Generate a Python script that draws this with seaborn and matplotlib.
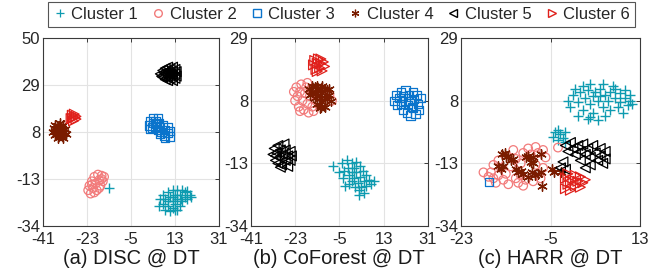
import numpy as np
import pandas as pd
import matplotlib
matplotlib.use("Agg")
import matplotlib.pyplot as plt
from matplotlib.lines import Line2D
import seaborn as sns

sns.set_style("white")
plt.rcParams['font.family'] = ['Liberation Sans', 'DejaVu Sans']

clusters = ["Cluster 1", "Cluster 2", "Cluster 3", "Cluster 4", "Cluster 5", "Cluster 6"]
colors = ["#0e9bb0", "#f27b7b", "#0a74cc", "#7a1c00", "#000000", "#e0201b"]
markers = ["+", "o", "s", (6, 2, 0), "<", ">"]
captions = ["(a) DISC @ DT", "(b) CoForest @ DT", "(c) HARR @ DT"]
xticks = [[-41, -23, -5, 13, 31], [-41, -23, -5, 13, 31], [-23, -5, 13]]
yticks = [[-34, -13, 8, 29, 50], [-34, -13, 8, 29], [-34, -13, 8, 29]]

# ---- Panel (a) DISC ----
a_c1 = [(-14, -17), (6.5, -25), (7, -22), (8, -20), (8, -24), (9, -27), (9, -22), (10, -19), (10, -25),
        (11, -21), (11, -27.5), (12, -18), (12, -23), (12, -26), (13, -20), (13, -24), (14, -18),
        (14, -22), (14, -27), (15, -20), (15, -25), (16, -18), (16, -23), (17, -21), (17, -19),
        (18, -22), (18, -18.5), (19, -20), (19.5, -21), (10, -23), (15.5, -22), (12, -21), (13, -27)]
a_c2 = [(-22.5, -18), (-22, -16), (-21.5, -19.5), (-21, -14), (-20.5, -17), (-20, -12), (-19.5, -15),
        (-19, -18), (-18.5, -11), (-18, -13.5), (-17.5, -16), (-17, -11.5), (-16.5, -14), (-16, -12),
        (-20, -19), (-21, -15.5), (-18, -17), (-17, -13)]
a_c3 = [(2.5, 11), (3, 13), (3.5, 10), (4, 14), (4, 12), (5, 10.5), (5, 13), (5.5, 11.5), (6, 9),
        (6.5, 12), (7, 10), (7.5, 8), (8, 11), (8.5, 6.5), (9, 9), (9, 5.5), (10, 10), (10, 7.5),
        (11, 8.5), (11, 6), (7, 7), (3, 9.5), (6, 14)]
a_c4 = [(-37, 8), (-36.5, 10), (-36, 6.5), (-36, 11), (-35, 8.5), (-35, 5.5), (-34.5, 10.5), (-34, 7),
        (-33.5, 9), (-33, 11), (-33, 5.5), (-32.5, 8), (-32, 9.5), (-31.5, 7), (-36, 8.5), (-34, 12),
        (-33.5, 6.5), (-35.5, 7)]
a_c5 = [(7, 34), (8, 35.5), (8, 32.5), (9, 36.5), (9, 34), (9, 31.5), (10, 37), (10, 35), (10, 33),
        (10, 31), (11, 36), (11, 34), (11, 32), (12, 37), (12, 35), (12, 33), (12, 31), (13, 36),
        (13, 34), (13, 32), (13.5, 35), (13.5, 33), (8.5, 34.5), (11.5, 33.5), (7.5, 33)]
a_c6 = [(-29.5, 14), (-29, 15.5), (-28.5, 13), (-28, 14.5), (-27.5, 15), (-27.5, 13.8), (-29, 14.2),
        (-28.2, 16)]

# ---- Panel (b) CoForest ----
b_c1 = [(-7.5, -14), (-4, -13), (-3, -15.5), (-3.5, -18), (-2, -12), (-1.5, -14.5), (-1, -17), (-1, -20),
        (0, -13), (0, -16), (0, -19), (1, -14.5), (1, -18), (1.5, -21), (2, -12.5), (2, -16),
        (2.5, -19.5), (3, -23.5), (3.5, -14), (3.5, -17.5), (4, -21), (4.5, -15.5), (5, -19), (5, -23),
        (6, -17), (6, -20.5), (7, -18.5), (8, -20), (9, -19), (-2.5, -20.5), (3, -22), (-5, -16)]
b_c2 = [(-23.5, 11), (-23, 8), (-22.5, 12.5), (-22, 9.5), (-21.5, 6), (-21, 11), (-20.5, 13.5), (-20, 8),
        (-19.5, 5), (-19, 10.5), (-18.5, 12.5), (-18, 7), (-17.5, 4), (-17, 9.5), (-16.5, 12), (-16, 6),
        (-15.5, 4.5), (-14.5, 8), (-8, 8), (-9, 10), (-21, 4.5), (-18, 14)]
b_c3 = [(17.5, 8), (18, 10), (18.5, 6.5), (19.5, 9), (20, 11), (20, 7), (21, 5), (21, 9.5), (22, 11.5),
        (22, 8), (22.5, 4), (23, 6.5), (23.5, 10), (24, 3), (24, 8), (25, 11), (25, 5.5), (25.5, 8.5),
        (26, 3.5), (26.5, 10), (27, 7), (28, 9), (27.5, 5), (24.5, 6)]
b_c4 = [(-17.5, 12), (-17, 10), (-16, 13), (-16, 11), (-15, 12.5), (-15, 9), (-14, 13), (-14, 10.5),
        (-14, 7), (-13, 12), (-13, 9), (-13, 5.5), (-12, 13), (-12, 10.5), (-12, 7.5), (-11, 12),
        (-11, 9), (-11, 6), (-10, 11.5), (-10, 8.5), (-9, 12), (-9, 10), (-8.5, 8), (-12.5, 6)]
b_c5 = [(-32, -10), (-31.5, -8), (-31, -12), (-30.5, -9.5), (-30, -7), (-30, -13), (-29.5, -11),
        (-29, -8.5), (-28.5, -13.5), (-28, -10), (-27.5, -6.5), (-27, -12), (-27, -8.5), (-26, -10.5),
        (-26, -14), (-25, -9), (-25, -12), (-24.5, -10.5), (-29, -14.3), (-31, -10.5)]
b_c6 = [(-15.5, 20), (-15, 21.5), (-14.5, 18.5), (-14, 20.5), (-13.5, 22), (-13, 19), (-12.5, 20.5),
        (-12, 18), (-11.5, 21), (-11, 19.5), (-14, 17.8), (-12.5, 22)]

# ---- Panel (c) HARR ----
c_c1 = [(-1.5, 8), (-1, 6), (-0.5, 10), (0, 12), (0.5, 7.5), (0.5, 3), (1, 11), (1.5, 13), (1.5, 5), (2, 9),
        (2.5, 11.5), (2.5, 2), (3, 7), (3, 13.5), (3.5, 9.5), (3.5, 4), (4, 11), (4.5, 8), (4.5, 1.5),
        (5, 12), (5, 9.5), (5.5, 6), (5.5, 13.5), (6, 10), (6, 3), (6.5, 8), (7, 11), (7, 5), (8, 9),
        (8, 12), (8.5, 6), (9, 7.5), (9, 10.5), (9.5, 4), (10, 9), (10, 11.5), (10.5, 6.5), (11, 8),
        (11, 10), (11.5, 7), (3, 2.5), (7.5, 13),
        (-4.5, -4), (-4, -2.5), (-3.5, -5), (-3, -3), (-2.5, -4.5), (-2, -2.5), (-2, -6), (-3.5, -1.8)]
c_c2 = [(-18.5, -16), (-17.5, -17.5), (-17, -16), (-16.5, -18), (-16, -19.5), (-15.5, -17), (-15, -14.5),
        (-14.5, -18.5), (-14, -16.5), (-15.5, -12), (-13.5, -20), (-12, -18), (-11.5, -19.5), (-11, -17),
        (-10.5, -20.5), (-10, -18.5), (-9.5, -8), (-9, -10), (-8.5, -19), (-8, -7.5), (-7.5, -9.5),
        (-7, -18), (-6.5, -8.5), (-6, -11), (-10.5, -9.5), (-12, -11.5), (-11, -13), (-13, -14),
        (-6.5, -14.5), (-16.5, -13.5), (-12.5, -8.5), (-8, -13.5), (-3.5, -7.7)]
c_c3 = [(-17.4, -19.2)]
c_c4 = [(-15.5, -14), (-15, -15), (-14.5, -13.8), (-14.8, -10), (-14.2, -9.5), (-14, -11), (-13.5, -10.5),
        (-13, -12), (-12.5, -11.5), (-11.5, -16), (-11, -15.5), (-10.5, -16.5), (-10, -11), (-9.5, -10.5),
        (-9, -12.5), (-8.5, -13), (-8.5, -11), (-8.8, -16), (-8.2, -17), (-7.5, -16.5), (-7, -10),
        (-7, -16), (-6.8, -20.5), (-4.8, -15), (-4.3, -16), (-2.8, -16), (-12, -15), (-9.5, -17.5)]
c_c5 = [(-2, -7), (-1.5, -9), (-1, -6), (-0.5, -8), (0, -10), (0.5, -7), (1, -9), (1, -12), (1.5, -6.5),
        (2, -10), (2.5, -8), (3, -11), (3, -13.5), (3.5, -7), (4, -9.5), (4.5, -12), (5, -8), (5, -10.5),
        (5.5, -13), (6, -9), (6, -11.5), (-2.5, -12.5), (-3, -14.5), (-2, -15), (2, -14.5)]
c_c6 = [(-2, -18), (-1.5, -20), (-1.5, -16.5), (-1, -22), (-0.5, -18.5), (0, -20.5), (0, -17), (0.5, -19),
        (1, -21), (1, -17.5), (1.5, -19.5), (2, -18.5), (-2, -21.5), (-1, -19)]

panels = [[a_c1, a_c2, a_c3, a_c4, a_c5, a_c6],
          [b_c1, b_c2, b_c3, b_c4, b_c5, b_c6],
          [c_c1, c_c2, c_c3, c_c4, c_c5, c_c6]]

rows = []
for pi, pdata in enumerate(panels):
    for ci, pts in enumerate(pdata):
        for (x, y) in pts:
            rows.append({"panel": pi, "cluster": clusters[ci], "x": x, "y": y})
df = pd.DataFrame(rows)

fig = plt.figure(figsize=(6.55, 2.72), dpi=100)
axpos = [[0.0656, 0.169, 0.2687, 0.691],
         [0.383, 0.169, 0.270, 0.691],
         [0.704, 0.169, 0.273, 0.691]]
sizes = [42, 38, 36, 46, 50, 50]
spine_col = "#3a3a3a"
for pi in range(3):
    ax = fig.add_axes(axpos[pi])
    sub = df[df.panel == pi]
    for ci, cl in enumerate(clusters):
        d = sub[sub.cluster == cl]
        if d.empty:
            continue
        m = markers[ci]
        if m in ("+",) or isinstance(m, tuple):
            sns.scatterplot(data=d, x="x", y="y", ax=ax, marker=m, color=colors[ci],
                            s=sizes[ci], linewidth=1.0, legend=False, zorder=3)
        else:
            sns.scatterplot(data=d, x="x", y="y", ax=ax, marker=m, facecolor="none",
                            edgecolor=colors[ci], s=sizes[ci], linewidth=0.9, legend=False, zorder=3)
    xt, yt = xticks[pi], yticks[pi]
    ax.set_xlim(xt[0], xt[-1])
    ax.set_ylim(yt[0], yt[-1])
    ax.set_xticks(xt)
    ax.set_yticks(yt)
    ax.set_xticklabels([str(v) for v in xt])
    ax.set_yticklabels([str(v) for v in yt])
    ax.grid(True, color="#e3e3e3", linewidth=0.8)
    ax.set_axisbelow(True)
    ax.tick_params(direction="in", length=3, width=0.7, colors=spine_col, labelsize=12,
                   top=True, right=True, labelcolor="#262626")
    ax.tick_params(axis="x", pad=4)
    ax.tick_params(axis="y", pad=2)
    for sp in ax.spines.values():
        sp.set_color(spine_col)
        sp.set_linewidth(0.8)
    ax.set_xlabel("")
    ax.set_ylabel("")
    cx = axpos[pi][0] + axpos[pi][2] / 2
    fig.text(cx, 0.05, captions[pi], ha="center", va="center", fontsize=14.5, color="#1a1a1a")

handles = []
for ci, cl in enumerate(clusters):
    m = markers[ci]
    if m in ("+",) or isinstance(m, tuple):
        h = Line2D([], [], linestyle="none", marker=m, color=colors[ci], markersize=5.5, markeredgewidth=0.9)
    else:
        h = Line2D([], [], linestyle="none", marker=m, markerfacecolor="none",
                   markeredgecolor=colors[ci], markersize=5.5, markeredgewidth=1.0)
    handles.append(h)
leg = fig.legend(handles, clusters, loc="upper center", bbox_to_anchor=(0.5215, 0.993), ncol=6,
                 fontsize=12, frameon=True, fancybox=False, framealpha=1, edgecolor="#555555",
                 handlelength=0.8, handletextpad=0.3, columnspacing=0.8, borderpad=0.3,
                 borderaxespad=0)
leg.get_frame().set_linewidth(0.8)

fig.savefig("out.png", dpi=100)
